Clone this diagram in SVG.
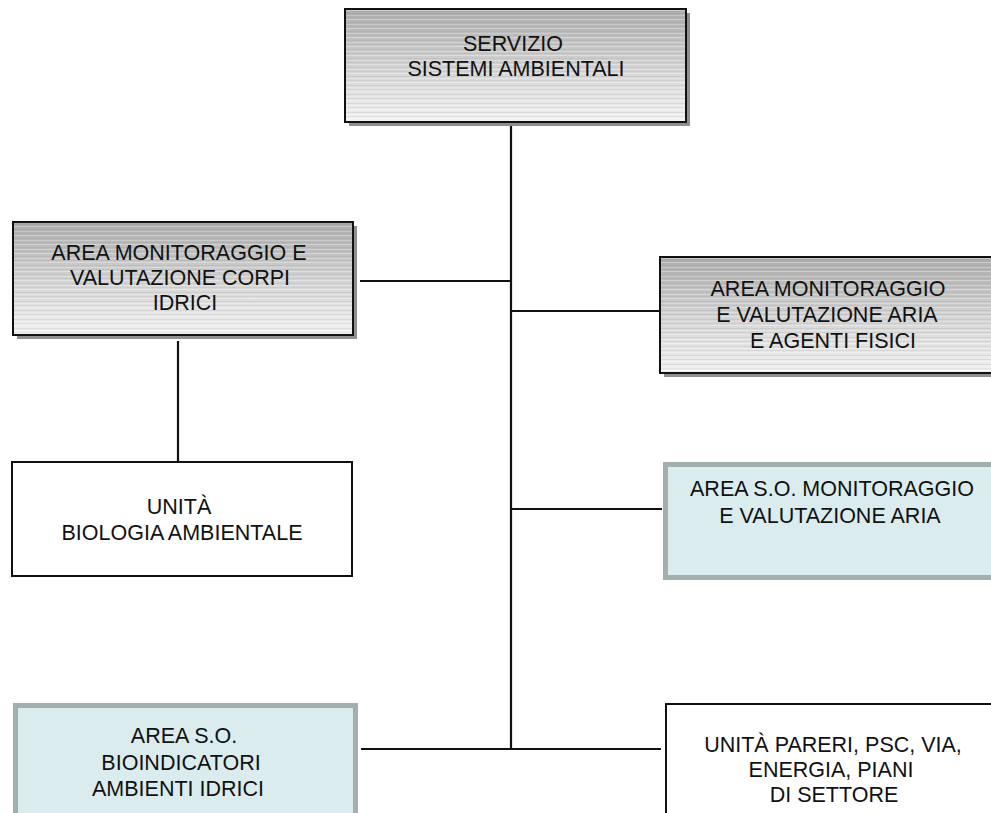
<svg xmlns="http://www.w3.org/2000/svg" width="991" height="813" viewBox="0 0 991 813">
  <defs>
    <linearGradient id="metal" x1="0" y1="0" x2="0" y2="1">
      <stop offset="0" stop-color="#acacac"/>
      <stop offset="0.55" stop-color="#d6d6d6"/>
      <stop offset="1" stop-color="#f2f2f2"/>
    </linearGradient>
    <pattern id="streaks" width="40" height="9" patternUnits="userSpaceOnUse">
      <rect x="0" y="1" width="40" height="1" fill="#ffffff" opacity="0.35"/>
      <rect x="0" y="4" width="40" height="1" fill="#8c8c8c" opacity="0.18"/>
      <rect x="0" y="6" width="40" height="1" fill="#ffffff" opacity="0.25"/>
      <rect x="0" y="8" width="40" height="1" fill="#7a7a7a" opacity="0.12"/>
    </pattern>
  </defs>
  <style>
    .shadow { fill: #8f8f8f; }
    .metal { fill: url(#metal); stroke: #111; stroke-width: 2; }
    .streak { fill: url(#streaks); }
    .plain { fill: #fff; stroke: #111; stroke-width: 2; }
    .sky { fill: #daecee; stroke: #a3afaf; stroke-width: 5; }
    .lbl { font-family: "Liberation Sans", Arial, sans-serif; font-size: 21.5px; fill: #111; text-anchor: middle; }
    .wire { stroke: #111; stroke-width: 2.2; fill: none; }
  </style>
  <rect width="991" height="813" fill="#fff"/>

  <g id="connectors">
    <line class="wire" x1="511" y1="126" x2="511" y2="749"/>
    <line class="wire" x1="360" y1="281" x2="511" y2="281"/>
    <line class="wire" x1="511" y1="311" x2="661" y2="311"/>
    <line class="wire" x1="511" y1="509" x2="662" y2="509"/>
    <line class="wire" x1="361" y1="749" x2="661" y2="749"/>
    <line class="wire" x1="178" y1="341" x2="178" y2="462"/>
  </g>

  <g id="servizio">
    <rect class="shadow" x="349" y="13" width="341" height="113"/>
    <rect class="metal" x="345" y="9" width="341" height="113"/>
    <rect class="streak" x="346" y="10" width="339" height="111"/>
    <text class="lbl" x="513" y="51">SERVIZIO</text>
    <text class="lbl" x="516" y="76">SISTEMI AMBIENTALI</text>
  </g>

  <g id="area-corpi-idrici">
    <rect class="shadow" x="17" y="226" width="340" height="113"/>
    <rect class="metal" x="13" y="222" width="340" height="113"/>
    <rect class="streak" x="14" y="223" width="338" height="111"/>
    <text class="lbl" x="179" y="260">AREA MONITORAGGIO E</text>
    <text class="lbl" x="180" y="285">VALUTAZIONE CORPI</text>
    <text class="lbl" x="185" y="310">IDRICI</text>
  </g>

  <g id="area-aria-agenti">
    <rect class="shadow" x="664" y="261" width="340" height="116"/>
    <rect class="metal" x="660" y="257" width="340" height="116"/>
    <rect class="streak" x="661" y="258" width="338" height="114"/>
    <text class="lbl" x="828" y="296">AREA MONITORAGGIO</text>
    <text class="lbl" x="827" y="322">E VALUTAZIONE ARIA</text>
    <text class="lbl" x="833" y="348">E AGENTI FISICI</text>
  </g>

  <g id="area-so-aria">
    <rect class="sky" x="665.5" y="464.5" width="340" height="113"/>
    <text class="lbl" x="832" y="496">AREA S.O. MONITORAGGIO</text>
    <text class="lbl" x="830" y="523">E VALUTAZIONE ARIA</text>
  </g>

  <g id="unita-biologia">
    <rect class="plain" x="12" y="462" width="340" height="114"/>
    <text class="lbl" x="179" y="514">UNITÀ</text>
    <text class="lbl" x="182" y="540">BIOLOGIA AMBIENTALE</text>
  </g>

  <g id="area-so-bioindicatori">
    <rect class="sky" x="15.5" y="705.5" width="340" height="130"/>
    <text class="lbl" x="184" y="743">AREA S.O.</text>
    <text class="lbl" x="181" y="770">BIOINDICATORI</text>
    <text class="lbl" x="178" y="796">AMBIENTI IDRICI</text>
  </g>

  <g id="unita-pareri">
    <rect class="plain" x="666" y="704" width="340" height="130"/>
    <text class="lbl" x="833" y="752">UNITÀ PARERI, PSC, VIA,</text>
    <text class="lbl" x="831" y="777">ENERGIA, PIANI</text>
    <text class="lbl" x="834" y="802">DI SETTORE</text>
  </g>
</svg>
